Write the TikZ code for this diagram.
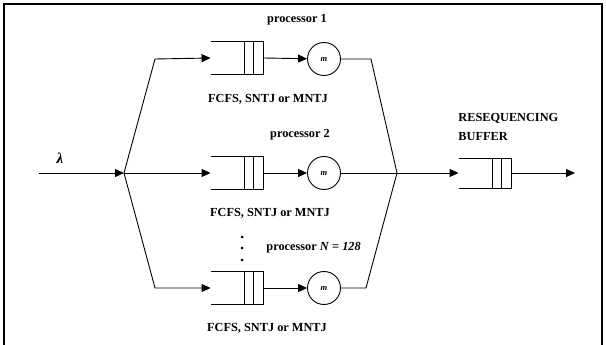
\documentclass[tikz,border=0pt]{standalone}
\usepackage{fontspec}
\setmainfont{Liberation Serif}
\usetikzlibrary{arrows.meta}
\begin{document}
\begin{tikzpicture}[x=1pt,y=-1pt,
  line width=0.9pt,
  arr/.style={-{Triangle[length=9pt,width=8pt]}},
  lbl/.style={inner sep=0pt,font=\fontsize{12.3}{14}\selectfont\bfseries},
  queuebox/.style={minimum width=52pt,minimum height=32pt,inner sep=0pt,draw=none},
  srv/.style={circle,draw,minimum size=33pt,inner sep=0pt,font=\fontsize{8.5}{9}\selectfont\bfseries\itshape},
  dotn/.style={circle,fill,inner sep=0pt,minimum size=3pt}]
\useasboundingbox (0,0) rectangle (606,345);
% frame
\draw[line width=2pt] (4,345) -- (4,4) -- (602,4) -- (602,345);

% nodes
\coordinate (in) at (39,173);
\coordinate (s) at (124,173);
\coordinate (m) at (397,173);
\coordinate (out) at (575,173);
\coordinate (u1) at (155,59);
\coordinate (u3) at (155,288);
\coordinate (v1) at (371,59);
\coordinate (v3) at (366,288);

\node[queuebox] (q1) at (237,58) {};
\node[queuebox] (q2) at (237,173) {};
\node[queuebox] (q3) at (237,288) {};
\node[queuebox,minimum height=29pt] (qr) at (485,173) {};

\node[srv] (c1) at (324,59) {m};
\node[srv] (c2) at (324,173) {m};
\node[srv] (c3) at (324,288) {m};

% queue drawings
\foreach \q in {q1,q2,q3,qr}{
  \draw (\q.north west) -- (\q.north east) -- (\q.south east) -- (\q.south west);
  \draw ([xshift=-19pt]\q.north east) -- ([xshift=-19pt]\q.south east);
  \draw ([xshift=-10pt]\q.north east) -- ([xshift=-10pt]\q.south east);
}

% connectors
\draw[arr] (in) -- (s);
\draw[arr] (s) -- (u1) -- (q1.west);
\draw[arr] (s) -- (q2.west);
\draw[arr] (s) -- (u3) -- (q3.west);
\draw[arr] (q1.east) -- (c1);
\draw[arr] (q2.east) -- (c2);
\draw[arr] (q3.east) -- (c3);
\draw (c1) -- (v1) -- (m);
\draw (c2) -- (m);
\draw (c3) -- (v3) -- (m);
\draw[arr] (m) -- (qr.west);
\draw[arr] (qr.east) -- (out);

% labels
\node[lbl] (p1) at (297,20) {processor 1};
\node[lbl] (f1) at (268,99) {FCFS, SNTJ or MNTJ};
\node[lbl] (p2) at (300,135) {processor 2};
\node[lbl] (f2) at (270,213) {FCFS, SNTJ or MNTJ};
\node[lbl,anchor=west] (p3) at (266,248) {processor \textit{N} = \textit{128}};
\node[lbl] (f3) at (267,328) {FCFS, SNTJ or MNTJ};
\node[lbl,anchor=west] (r1) at (458,118) {RESEQUENCING};
\node[lbl,anchor=west] (r2) at (458,137) {BUFFER};
\node[lbl,font=\fontsize{15}{16}\selectfont\bfseries\itshape] (lam) at (60,158) {λ};

\node[dotn] (d1) at (242,237) {};
\node[dotn] (d2) at (242,248) {};
\node[dotn] (d3) at (242,260) {};
\end{tikzpicture}
\end{document}
